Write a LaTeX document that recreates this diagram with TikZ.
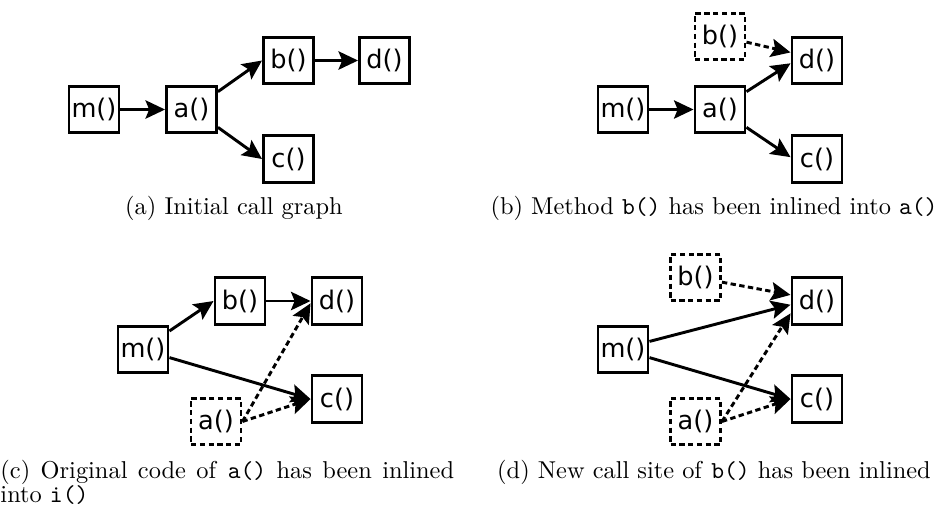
\documentclass[tikz,border=0pt]{standalone}
\usepackage{fontspec}
\newfontfamily\nodefont{DejaVu Sans}
\usetikzlibrary{arrows.meta}
\begin{document}
\begin{tikzpicture}[x=0.41pt, y=-0.41pt,
  fn/.style={draw, line width=1.2pt, minimum width=20.5pt, minimum height=19pt,
    inner sep=0pt, font=\nodefont\fontsize{10.5}{12}\selectfont},
  gone/.style={fn, dash pattern=on 2.2pt off 1.4pt},
  call/.style={line width=1.2pt, -{Stealth[length=8pt, width=7.5pt, inset=1.5pt]}},
  inl/.style={call, dash pattern=on 2.2pt off 1.4pt},
  captext/.style={anchor=base west, inner sep=0pt, font=\normalsize}]
\useasboundingbox (0,0) rectangle (936,507);

% (a) initial call graph
\node[fn] (am) at (94,109.5) {m()};
\node[fn] (aa) at (191.5,109.5) {a()};
\node[fn] (ab) at (288.5,60.5) {b()};
\node[fn] (ad) at (384.5,60.5) {d()};
\node[fn] (ac) at (288.5,159) {c()};
\draw[call] (am) -- (aa);
\draw[call] (aa.34) -- (ab.west);
\draw[call] (aa.-34) -- (ac.west);
\draw[call] (ab) -- (ad);

% (b) b() inlined into a()
\node[fn] (bm) at (623,109.5) {m()};
\node[fn] (ba) at (720,109.5) {a()};
\node[gone] (bb) at (720,36.5) {b()};
\node[fn] (bd) at (817,60.5) {d()};
\node[fn] (bc) at (817,159) {c()};
\draw[call] (bm) -- (ba);
\draw[call] (ba.34) -- (bd.186);
\draw[call] (ba.-34) -- (bc.176);
\draw[inl] (bb.-12) -- (bd.163);

% (c) a() inlined into the caller
\node[fn] (cb) at (240,301) {b()};
\node[fn] (cd) at (337,301) {d()};
\node[fn] (cm) at (143,349.5) {m()};
\node[fn] (cc) at (337,399) {c()};
\node[gone] (ca) at (216,421.5) {a()};
\draw[call] (cm.35) -- (cb.west);
\draw[call] (cb) -- (cd);
\draw[call] (cm.-17) -- (cc.west);
\draw[inl] (ca.east) -- (cd.185);
\draw[inl] (ca.east) -- (cc.west);

% (d) new call site of b() inlined
\node[gone] (db) at (695.5,277.5) {b()};
\node[fn] (dd) at (817,301) {d()};
\node[fn] (dm) at (623,349.5) {m()};
\node[fn] (dc) at (817,399) {c()};
\node[gone] (da) at (695.5,421.5) {a()};
\draw[inl] (db.-10) -- (dd.167);
\draw[call] (dm.17) -- (dd.188);
\draw[call] (dm.-17) -- (dc.west);
\draw[inl] (da.east) -- (dd.205);
\draw[inl] (da.east) -- (dc.west);

% captions
\node[captext, anchor=base] (capa) at (234,214) {(a) Initial call graph};
\node[captext, anchor=base] (capb) at (714,214) {(b) Method \texttt{b()} has been inlined into \texttt{a()}};
\node[captext] (capc1) at (0,478) {\makebox[186pt][s]{(c) Original code of \texttt{a()} has been inlined}};
\node[captext] (capc2) at (0,502) {into \texttt{i()}};
\node[captext, anchor=base] (capd) at (714,478) {(d) New call site of \texttt{b()} has been inlined};
\end{tikzpicture}
\end{document}
